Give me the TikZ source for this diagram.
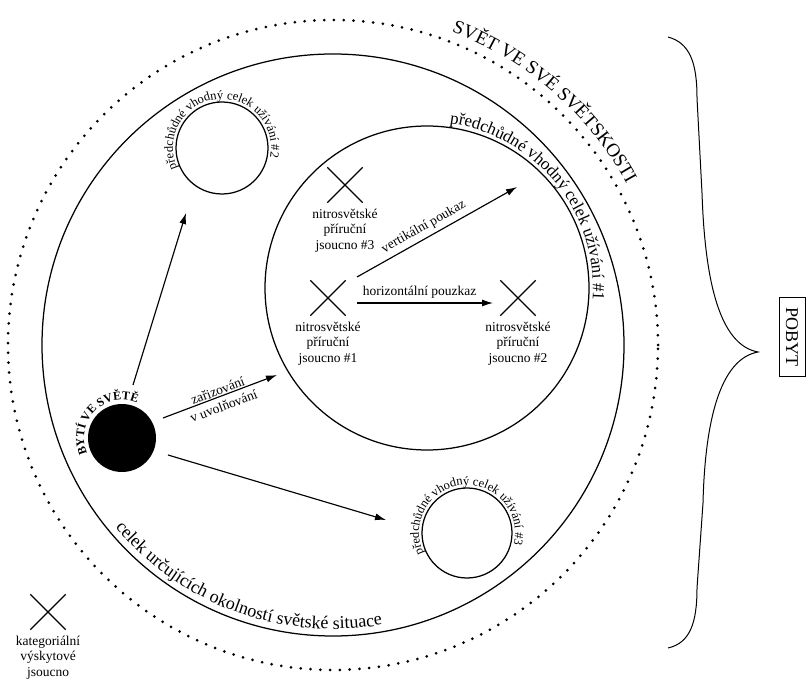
\documentclass[tikz,border=0pt]{standalone}
\usepackage{fontspec}
\setmainfont{Liberation Serif}
\usetikzlibrary{arrows.meta,decorations.text,shapes.misc}
\begin{document}
\begin{tikzpicture}[x=1pt,y=1pt,
  ring/.style={draw, circle, line width=1.25pt, inner sep=0pt},
  arr/.style={-{Latex[length=11pt,width=7pt]}, line width=1.15pt},
  xmark/.style={cross out, draw, line width=1.4pt, minimum size=34pt, inner sep=0pt},
  lbl/.style={font=\fontsize{13.5}{15.5}\selectfont, align=center, inner sep=0pt},
  dotring/.style={draw, circle, inner sep=0pt, line width=3pt, line cap=round, dash pattern=on 0pt off 9.8pt},
  curvetext/.style={decorate, decoration={text along path, text align=center, text={#1}}}
]
\useasboundingbox (0,0) rectangle (811,683);

% circles
\node[dotring, minimum size=650pt] (svet) at (333,338) {};
\node[ring, minimum size=582pt] (okol) at (333,338) {};
\node[ring, minimum size=324pt] (celek1) at (427,395) {};
\node[ring, minimum size=92pt] (celek2) at (222,535) {};
\node[ring, minimum size=90pt] (celek3) at (467,150) {};
\node[circle, fill=black, minimum size=68pt, inner sep=0pt] (byti) at (122,245) {};

% curved texts
\path[curvetext={|\fontsize{19}{19}\selectfont|SVĚT VE SVÉ SVĚTSKOSTI}]
  ([shift={(79:335)}]svet.center) arc[start angle=79, end angle=19, radius=335];
\path[curvetext={|\fontsize{18}{18}\selectfont|celek určujících okolností světské situace}]
  ([shift={(200:284)}]okol.center) arc[start angle=200, end angle=300, radius=284];
\path[curvetext={|\fontsize{17}{17}\selectfont|předchůdné vhodný celek užívání {\#}1}]
  ([shift={(98:166)}]celek1.center) arc[start angle=98, end angle=-20, radius=166];
\path[curvetext={|\fontsize{12.5}{12.5}\selectfont|předchůdné vhodný celek užívání {\#}2}]
  ([shift={(235:49)}]celek2.center) arc[start angle=235, end angle=-42, radius=49];
\path[curvetext={|\fontsize{12.5}{12.5}\selectfont|předchůdné vhodný celek užívání {\#}3}]
  ([shift={(235:48)}]celek3.center) arc[start angle=235, end angle=-44, radius=48];
\path[curvetext={|\bfseries\fontsize{12}{12}\selectfont|BYTÍ VE SVĚTĚ}]
  ([shift={(215:38)}]byti.center) arc[start angle=215, end angle=56, radius=38];

% crosses and labels
\node[xmark] (x3) at (345,498) {};
\node[lbl, anchor=north] (l3) at ([yshift=-6pt]x3.south) {nitrosvětské\\příruční\\jsoucno \#3};
\node[xmark] (x1) at (328,385) {};
\node[lbl, anchor=north] (l1) at ([yshift=-6pt]x1.south) {nitrosvětské\\příruční\\jsoucno \#1};
\node[xmark] (x2) at (518,385) {};
\node[lbl, anchor=north] (l2) at ([yshift=-6pt]x2.south) {nitrosvětské\\příruční\\jsoucno \#2};
\node[xmark] (x0) at (48,71) {};
\node[lbl, anchor=north] (l0) at ([yshift=-6pt]x0.south) {kategoriální\\výskytové\\jsoucno};

% arrows
\coordinate (a1s) at (133,298); \coordinate (a1e) at (186,470);
\coordinate (a2s) at (163,265); \coordinate (a2e) at (277,308);
\coordinate (a3s) at (168,228); \coordinate (a3e) at (386,163);
\coordinate (a4s) at (357,406); \coordinate (a4e) at (517,496);
\coordinate (a5s) at (357,380); \coordinate (a5e) at (493,380);
\draw[arr] (a1s) -- (a1e);
\draw[arr] (a2s) -- node[lbl, sloped, yshift=-2pt] (lzar) {zařizování\\[1pt]v uvolňování} (a2e);
\draw[arr] (a3s) -- (a3e);
\draw[arr] (a4s) -- node[lbl, sloped, above=4pt, pos=0.45] (lvert) {vertikální poukaz} (a4e);
\draw[arr] (a5s) -- node[lbl, above=4pt, pos=0.46] (lhor) {horizontální pouzkaz} (a5e);

% brace and POBYT
\draw[line width=1pt] (668,646) .. controls (690,640) and (697,620) .. (697,585)
  -- (702,490) .. controls (705,400) and (720,338) .. (758,331)
  .. controls (720,324) and (705,262) .. (703,180)
  -- (697,95) .. controls (697,60) and (690,40) .. (668,35);
\node[draw, line width=0.8pt, rotate=-90, font=\fontsize{18}{18}\selectfont, inner xsep=10pt, inner ysep=7pt] (pobyt) at (792,346) {POBYT};
\end{tikzpicture}
\end{document}
